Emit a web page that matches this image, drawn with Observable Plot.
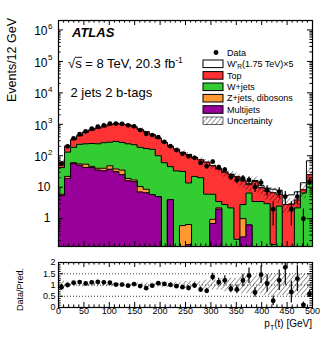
<!DOCTYPE html>
<html><head><meta charset="utf-8">
<script src="https://cdn.jsdelivr.net/npm/d3@7"></script>
<script src="https://cdn.jsdelivr.net/npm/@observablehq/plot@0.6"></script>
<style>
html,body{margin:0;padding:0;background:#fff;}
#wrap{position:relative;width:332px;height:344px;overflow:hidden;font-family:"Liberation Sans",Arial,Helvetica,sans-serif;}
#main{position:absolute;left:0;top:0;}
#ratio{position:absolute;left:0;top:250px;}
#over{position:absolute;left:0;top:0;pointer-events:none;}
</style></head><body>
<div id="wrap"><div id="main"></div><div id="ratio"></div><svg id="over" width="332" height="344"></svg></div>
<script>
// ---- binning (p_T(t) in GeV) ----
const nBins = 42;
const xMin = 0, xMax = 500;

// ---- background processes, events per bin ----
const multijets = [5.5,19,56,50,42,42,35,33,37,31,25,16,15,7,6.6,5.8,5,0,4,0,0,0.15,0,0,0,0.7,2.0,0,0,0,0.26,0.63,0,0,0,0,0,0,0,0,0,0];
const zjetsDibosons = [0.5,3,4,5,12,4,5,7,11,7,10,3,2,3.5,2,0,0,0,0,0,0.6,0.5,0,0,0,0.25,0.2,0,0,0,0.74,0,0,0,0,0,0,0,0,0,0,0];
const wjets = [36,108,125,175,186,199,200,220,222,247,230,221,208,175,161,154,95,60,41,33,31,13,22,20,6,5,1.3,2.8,2.2,0.22,1.8,5.9,3.5,3.5,3,0.15,2.5,0,0,2.2,6.5,12.7];
const topq = [20,70,140,200,320,410,505,570,690,745,745,720,605,505,410,310,260,205,155,127,96,96,66,54,56,42,34.5,27,23,21,13,5.5,11.5,6.1,4.5,6.5,3.3,2.8,2.9,1.7,1.8,12.3];
// ---- signal W'_R (1.75 TeV) x5 ----
const wprime = [0.05,0.05,0.05,0.05,0.05,0.05,0.05,0.05,0.05,0.05,0.2,0.2,0.2,0.2,0.2,0.2,0.2,0.2,0.2,0.2,0.5,0.5,0.5,0.5,0.5,0.5,0.8,0.8,0.8,0.8,1,1.2,1.4,1.6,1.8,2,2.2,2.6,2.8,3.2,5.5,44];
// ---- observed data ----
const data = [56,200,358,486,599,734,849,930,1056,1051,1030,931,863,656,499,456,389,278,202,152,115,95,86,59,46,65,43,36,21,17,19,17,10,14,8,2,7,5,2,5,1,15];
// ---- relative systematic uncertainty of the prediction ----
const relUnc = [0.25,0.12,0.08,0.08,0.08,0.08,0.08,0.08,0.08,0.08,0.08,0.08,0.08,0.09,0.09,0.09,0.09,0.12,0.12,0.12,0.12,0.16,0.16,0.16,0.22,0.22,0.22,0.3,0.3,0.3,0.4,0.4,0.4,0.4,0.48,0.48,0.48,0.48,0.48,0.48,0.48,0.48];

// ---- tick labels ----
const yTickValues = [1, 10, 100, 1000, 10000, 100000, 1000000];
const yTickBase = ["1", "10", "10", "10", "10", "10", "10"];
const yTickExp = ["", "", "2", "3", "4", "5", "6"];
const rTickValues = [0, 0.5, 1, 1.5, 2];
const rTickLabels = ["0", "0.5", "1", "1.5", "2"];
const xTickValues = [0, 50, 100, 150, 200, 250, 300, 350, 400, 450, 500];
const xTickLabels = ["0", "50", "100", "150", "200", "250", "300", "350", "400", "450", "500"];

const colors = ["#990099", "#ff9933", "#33cc33", "#ff3333", "#ffffff"];

const FONT = "'Liberation Sans', Arial, Helvetica, sans-serif";
const yMin = 0.13, yMax = 2e6, FLOOR = 1e-3;

const xEdges = d3.range(nBins + 1).map(i => xMin + i * (xMax - xMin) / nBins);
const centers = d3.range(nBins).map(i => (xEdges[i] + xEdges[i + 1]) / 2);
const stepPts = vals => xEdges.map((x, i) => ({x, v: vals[Math.min(i, nBins - 1)]}));

const procs = [multijets, zjetsDibosons, wjets, topq, wprime];
let run = new Array(nBins).fill(0);
const cums = procs.map(p => (run = run.map((r, i) => r + p[i])));
const total = cums[3];

// geometry
const W = 332;
const M = {l: 58, r: 20, t: 20, b: 4, h: 250};
const R = {t: 12, b: 37, h: 94};
const pxPerX = (W - M.l - M.r) / (xMax - xMin);
const pxPerDec = (M.h - M.t - M.b) / (Math.log10(yMax) - Math.log10(yMin));
const pxPerR = (R.h - R.t - R.b) / 2;
const majL = 5, minL = 2.6;

// ---------- main panel ----------
const mainMarks = [];
for (let k = 4; k >= 0; k--) {
  const pts = stepPts(cums[k].map(v => Math.max(v, FLOOR)));
  mainMarks.push(Plot.areaY(pts, {x: "x", y1: FLOOR, y2: "v", curve: "step-after", fill: colors[k], clip: true}));
  mainMarks.push(Plot.lineY(pts, {x: "x", y: "v", curve: "step-after", stroke: "black", strokeWidth: 1, clip: true}));
}
const bandPts = xEdges.map((x, i) => { const j = Math.min(i, nBins - 1); return {x, lo: Math.max(total[j] * (1 - relUnc[j]), FLOOR), hi: total[j] * (1 + relUnc[j])}; });
mainMarks.push(Plot.areaY(bandPts, {x: "x", y1: "lo", y2: "hi", curve: "step-after", fill: "url(#hatch)", clip: true}));
const rows = data.map((d, i) => ({xc: centers[i], d, lo: Math.max(d - Math.sqrt(d), FLOOR), hi: d + Math.sqrt(d),
  r: d / total[i], rlo: (d - Math.sqrt(d)) / total[i], rhi: (d + Math.sqrt(d)) / total[i]}));
mainMarks.push(Plot.ruleX(rows, {x: "xc", y1: "lo", y2: "hi", stroke: "black", strokeWidth: 1.2, clip: true}));
mainMarks.push(Plot.dot(rows, {x: "xc", y: "d", r: 2.4, fill: "black", stroke: null, clip: true}));

// ticks (main)
const logMinor = [];
for (let e = -1; e <= 6; e++) for (let m = 2; m <= 9; m++) { const v = m * Math.pow(10, e); if (v > yMin && v < yMax) logMinor.push(v); }
const xMinor = d3.range(0, 501, 10).filter(v => v % 50 !== 0);
const fY = px => Math.pow(10, px / pxPerDec);
const baseRows = yTickValues.map((v, i) => ({v, t: yTickBase[i], e: yTickExp[i]}));
mainMarks.push(
  Plot.ruleY(yTickValues, {y: d => d, x1: xMin, x2: xMin + majL / pxPerX, stroke: "black"}),
  Plot.ruleY(yTickValues, {y: d => d, x1: xMax - majL / pxPerX, x2: xMax, stroke: "black"}),
  Plot.ruleY(logMinor, {y: d => d, x1: xMin, x2: xMin + minL / pxPerX, stroke: "black"}),
  Plot.ruleY(logMinor, {y: d => d, x1: xMax - minL / pxPerX, x2: xMax, stroke: "black"}),
  Plot.ruleX(xTickValues, {x: d => d, y1: yMin, y2: yMin * fY(majL), stroke: "black"}),
  Plot.ruleX(xTickValues, {x: d => d, y1: yMax / fY(majL), y2: yMax, stroke: "black"}),
  Plot.ruleX(xMinor, {x: d => d, y1: yMin, y2: yMin * fY(minL), stroke: "black"}),
  Plot.ruleX(xMinor, {x: d => d, y1: yMax / fY(minL), y2: yMax, stroke: "black"}),
  Plot.frame({stroke: "black", strokeWidth: 1.2}),
  Plot.text(baseRows.filter(d => !d.e), {y: "v", text: "t", frameAnchor: "left", textAnchor: "end", dx: -8, fontSize: 12, fill: "black"}),
  Plot.text(baseRows.filter(d => d.e), {y: "v", text: "t", frameAnchor: "left", textAnchor: "end", dx: -11, dy: 1.5, fontSize: 12, fill: "black"}),
  Plot.text(baseRows.filter(d => d.e), {y: "v", text: "e", frameAnchor: "left", textAnchor: "start", dx: -10.5, dy: -3.5, fontSize: 8, fill: "black"})
);

const mainPlot = Plot.plot({
  width: W, height: M.h, marginLeft: M.l, marginRight: M.r, marginTop: M.t, marginBottom: M.b,
  x: {domain: [xMin, xMax], axis: null},
  y: {type: "log", domain: [yMin, yMax], axis: null},
  style: {fontFamily: FONT, background: "white", color: "black", overflow: "visible"},
  marks: mainMarks
});
document.getElementById("main").appendChild(mainPlot);

// ---------- ratio panel ----------
const rBand = xEdges.map((x, i) => { const j = Math.min(i, nBins - 1); return {x, lo: 1 - relUnc[j], hi: 1 + relUnc[j]}; });
const rMinor = d3.range(0, 2.001, 0.1).map(v => +v.toFixed(2)).filter(v => Math.abs(v * 2 - Math.round(v * 2)) > 1e-6);
const ratioMarks = [
  Plot.ruleY([0.5, 1, 1.5], {y: d => d, stroke: "#444", strokeWidth: 1, strokeDasharray: "1,2"}),
  Plot.areaY(rBand, {x: "x", y1: "lo", y2: "hi", curve: "step-after", fill: "url(#hatch)", clip: true}),
  Plot.ruleX(rows, {x: "xc", y1: "rlo", y2: "rhi", stroke: "black", strokeWidth: 1.2, clip: true}),
  Plot.dot(rows, {x: "xc", y: "r", r: 2.4, fill: "black", stroke: null, clip: true}),
  Plot.ruleY(rTickValues, {y: d => d, x1: xMin, x2: xMin + majL / pxPerX, stroke: "black"}),
  Plot.ruleY(rTickValues, {y: d => d, x1: xMax - majL / pxPerX, x2: xMax, stroke: "black"}),
  Plot.ruleY(rMinor, {y: d => d, x1: xMin, x2: xMin + minL / pxPerX, stroke: "black"}),
  Plot.ruleY(rMinor, {y: d => d, x1: xMax - minL / pxPerX, x2: xMax, stroke: "black"}),
  Plot.ruleX(xTickValues, {x: d => d, y1: 0, y2: majL / pxPerR, stroke: "black"}),
  Plot.ruleX(xTickValues, {x: d => d, y1: 2 - majL / pxPerR, y2: 2, stroke: "black"}),
  Plot.ruleX(xMinor, {x: d => d, y1: 0, y2: minL / pxPerR, stroke: "black"}),
  Plot.ruleX(xMinor, {x: d => d, y1: 2 - minL / pxPerR, y2: 2, stroke: "black"}),
  Plot.frame({stroke: "black", strokeWidth: 1.2}),
  Plot.text(rTickValues.map((v, i) => ({v, t: rTickLabels[i]})), {y: "v", text: "t", frameAnchor: "left", textAnchor: "end", dx: -3, fontSize: 9, fill: "black"}),
  Plot.text(xTickValues.map((v, i) => ({v, t: xTickLabels[i]})), {x: "v", text: "t", frameAnchor: "bottom", lineAnchor: "top", dy: 0.5, fontSize: 9, fill: "black"})
];
const ratioPlot = Plot.plot({
  width: W, height: R.h, marginLeft: M.l, marginRight: M.r, marginTop: R.t, marginBottom: R.b,
  x: {domain: [xMin, xMax], axis: null},
  y: {domain: [0, 2], axis: null},
  style: {fontFamily: FONT, background: "transparent", color: "black", overflow: "visible"},
  marks: ratioMarks
});
document.getElementById("ratio").appendChild(ratioPlot);

// ---------- overlay: titles, labels, legend ----------
const legendY = [52.5, 63.8, 75.4, 86.8, 98.2, 109.5, 120.8];
const boxX = 203, boxW = 20, boxH = 7.6, textX = 227;
const legendEntries = [
  {type: "dot", label: "Data"},
  {type: "box", fill: colors[4], label: "W′<tspan dy='2' font-size='6.5'>R</tspan><tspan dy='-2'>(1.75 TeV)×5</tspan>"},
  {type: "box", fill: colors[3], label: "Top"},
  {type: "box", fill: colors[2], label: "W+jets"},
  {type: "box", fill: colors[1], label: "Z+jets, dibosons"},
  {type: "box", fill: colors[0], label: "Multijets"},
  {type: "box", fill: "url(#hatch)", label: "Uncertainty"}
];
let leg = "";
legendEntries.forEach((e, i) => {
  const c = legendY[i];
  if (e.type === "dot") leg += `<circle cx="216" cy="${c}" r="2.4" fill="black"/>`;
  else leg += `<rect x="${boxX}" y="${c - boxH / 2}" width="${boxW}" height="${boxH}" fill="${e.fill}" stroke="black" stroke-width="${i === 6 ? 0.6 : 1}"/>`;
  leg += `<text x="${textX}" y="${c + 3.2}" font-size="9">${e.label}</text>`;
});

document.getElementById("over").innerHTML = `
<defs><pattern id="hatch" patternUnits="userSpaceOnUse" width="3.6" height="3.6" patternTransform="rotate(40)">
<line x1="0" y1="0" x2="0" y2="3.6" stroke="black" stroke-width="0.8"/></pattern></defs>
<g font-family="${FONT.replace(/'/g, "")}" fill="black">
<text x="16" y="18" transform="rotate(-90 16 18)" text-anchor="end" font-size="12.5">Events/12 GeV</text>
<text x="22.5" y="268" transform="rotate(-90 22.5 268)" text-anchor="end" font-size="9">Data/Pred.</text>
<text x="72" y="36.7" font-size="13" font-weight="bold" font-style="italic">ATLAS</text>
<text x="68" y="68" font-size="13">√s = 8 TeV, 20.3 fb<tspan dy="-5.5" font-size="8.5">-1</tspan></text>
<line x1="75" y1="57.3" x2="82" y2="57.3" stroke="black" stroke-width="0.9"/>
<text x="70.5" y="97" font-size="13">2 jets 2 b-tags</text>
<text x="312" y="327" text-anchor="end" font-size="10">p<tspan dy="2.5" font-size="7">T</tspan><tspan dy="-2.5">(t) [GeV]</tspan></text>
${leg}
</g>`;
</script></body></html>
